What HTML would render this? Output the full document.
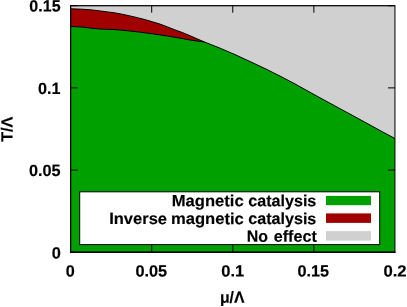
<!DOCTYPE html>
<html><head><meta charset="utf-8">
<style>
html,body{margin:0;padding:0;background:#fff;}
svg{display:block;will-change:transform;}
text{font-family:"Liberation Sans",sans-serif;font-weight:bold;font-size:16.2px;font-kerning:none;fill:#000;stroke:#000;stroke-width:0.15px;}
</style></head><body>
<svg width="407" height="307" viewBox="0 0 407 307">
<rect x="0" y="0" width="407" height="307" fill="#fff"/>
<rect x="70.6" y="5.7" width="324.35" height="246.55" fill="#d0d0d0"/>
<path d="M70.6,8.8 L78,9.05 L85,9.4 L92.5,10.0 L100,10.95 L107.5,11.9 L115,12.9 L122.5,14.3 L130,15.95 L137.5,17.7 L145,19.6 L152.5,21.8 L160,24.1 L167.5,26.9 L175,29.9 L182.5,32.6 L190,35.7 L197,38.8 L204.5,42.0 L204.5,252.25 L70.6,252.25 Z" fill="#a00000"/>
<path d="M70.6,26.5 L78,26.85 L85,27.3 L92,28.3 L99.5,29.0 L107,29.25 L114,29.55 L122,30.2 L130,31.0 L137.5,31.85 L145,32.8 L152.5,33.8 L160,34.9 L167.5,36.1 L175,37.3 L182.5,38.6 L190,40.0 L197,41.0 L204.5,42.0 L212,45.0 L220,48.15 L235,54.6 L250,61.55 L265,68.6 L280,76.05 L295,83.95 L310,92.3 L325,100.5 L340,108.7 L355,116.8 L370,125.0 L382,131.6 L394.95,138.5 L394.95,252.25 L70.6,252.25 Z" fill="#00a000"/>
<g stroke="#000" stroke-width="1" fill="none">
<path d="M70.6,8.8 L78,9.05 L85,9.4 L92.5,10.0 L100,10.95 L107.5,11.9 L115,12.9 L122.5,14.3 L130,15.95 L137.5,17.7 L145,19.6 L152.5,21.8 L160,24.1 L167.5,26.9 L175,29.9 L182.5,32.6 L190,35.7 L197,38.8 L204.5,42.0"/>
<path d="M70.6,26.5 L78,26.85 L85,27.3 L92,28.3 L99.5,29.0 L107,29.25 L114,29.55 L122,30.2 L130,31.0 L137.5,31.85 L145,32.8 L152.5,33.8 L160,34.9 L167.5,36.1 L175,37.3 L182.5,38.6 L190,40.0 L197,41.0 L204.5,42.0 L212,45.0 L220,48.15 L235,54.6 L250,61.55 L265,68.6 L280,76.05 L295,83.95 L310,92.3 L325,100.5 L340,108.7 L355,116.8 L370,125.0 L382,131.6 L394.95,138.5"/>
<path d="M70.6,252.25h7M394.95,252.25h-7M70.6,170.07h7M394.95,170.07h-7M70.6,87.88h7M394.95,87.88h-7M70.6,5.70h7M394.95,5.70h-7M151.69,252.25v-7M151.69,5.7v7M232.78,252.25v-7M232.78,5.7v7M313.86,252.25v-7M313.86,5.7v7"/>
<rect x="70.6" y="5.7" width="324.35" height="246.55"/>
<path d="M70.1,252.25H395.45" stroke-width="1.3"/>
<path d="M70.6,5.2V252.75" stroke-width="1.2"/>
<path d="M70.6,5.7H394.95" stroke-width="1.2" stroke-opacity="0.6"/>
</g>
<rect x="79.7" y="191.8" width="300" height="52.8" fill="#fff" stroke="#000" stroke-width="1"/>
<rect x="326" y="195.9" width="45" height="9.3" fill="#00a000"/>
<rect x="326" y="213.4" width="45" height="9.5" fill="#a00000"/>
<rect x="326" y="231.1" width="45" height="9.5" fill="#d0d0d0"/>
<text transform="translate(171.79,206.2) rotate(0.03) scale(1.0255,1)">Magnetic</text>
<text transform="translate(248.22,206.2) rotate(0.03) scale(0.9954,1)">catalysis</text>
<text transform="translate(109.19,224.1) rotate(0.03) scale(1.0199,1)">Inverse</text>
<text transform="translate(170.91,224.1) rotate(0.03) scale(1.0248,1)">magnetic</text>
<text transform="translate(248.22,224.1) rotate(0.03) scale(0.9954,1)">catalysis</text>
<text transform="translate(246.83,241.8) rotate(0.03) scale(0.9860,1)">No</text>
<text transform="translate(273.77,241.8) rotate(0.03) scale(0.9969,1)">effect</text>
<text transform="translate(29.37,11.5) rotate(0.03) scale(0.9889,1)">0.15</text>
<text transform="translate(38.06,94.0) rotate(0.03) scale(0.9987,1)">0.1</text>
<text transform="translate(28.96,176.1) rotate(0.03) scale(1.0020,1)">0.05</text>
<text transform="translate(51.65,258.6) rotate(0.03) scale(1.0124,1)">0</text>
<text transform="translate(65.86,276.4) rotate(0.03) scale(0.9994,1)">0</text>
<text transform="translate(135.46,276.4) rotate(0.03) scale(1.0053,1)">0.05</text>
<text transform="translate(221.25,276.4) rotate(0.03) scale(1.0173,1)">0.1</text>
<text transform="translate(297.56,276.4) rotate(0.03) scale(1.0020,1)">0.15</text>
<text transform="translate(383.44,276.4) rotate(0.03) scale(1.0315,1)">0.2</text>
<text transform="translate(219.89,302.8) rotate(0.03) scale(0.9763,1)">μ/Λ</text>
<text transform="translate(12.4,141.78) rotate(-89.97) scale(0.9996,1)">T/Λ</text>
</svg>
</body></html>
